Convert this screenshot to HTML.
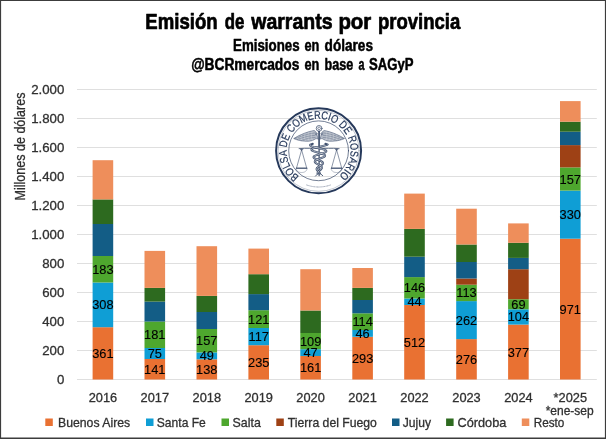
<!DOCTYPE html>
<html lang="es"><head><meta charset="utf-8"><title>Emisión de warrants por provincia</title>
<style>html,body{margin:0;padding:0;background:#fff}svg{display:block}text{font-family:"Liberation Sans",Arial,sans-serif}.ax{stroke:#303030;stroke-width:.3px}.dl{stroke:#000;stroke-width:.12px}</style>
</head><body>
<svg width="606" height="439" viewBox="0 0 606 439">
<rect x="0" y="0" width="606" height="439" fill="#fff"/>
<line x1="77" x2="596.8" y1="379.50" y2="379.50" stroke="#DFDFDF" stroke-width="1"/>
<line x1="77" x2="596.8" y1="350.50" y2="350.50" stroke="#DFDFDF" stroke-width="1"/>
<line x1="77" x2="596.8" y1="321.50" y2="321.50" stroke="#DFDFDF" stroke-width="1"/>
<line x1="77" x2="596.8" y1="292.50" y2="292.50" stroke="#DFDFDF" stroke-width="1"/>
<line x1="77" x2="596.8" y1="263.50" y2="263.50" stroke="#DFDFDF" stroke-width="1"/>
<line x1="77" x2="596.8" y1="234.50" y2="234.50" stroke="#DFDFDF" stroke-width="1"/>
<line x1="77" x2="596.8" y1="205.50" y2="205.50" stroke="#DFDFDF" stroke-width="1"/>
<line x1="77" x2="596.8" y1="176.50" y2="176.50" stroke="#DFDFDF" stroke-width="1"/>
<line x1="77" x2="596.8" y1="147.50" y2="147.50" stroke="#DFDFDF" stroke-width="1"/>
<line x1="77" x2="596.8" y1="118.50" y2="118.50" stroke="#DFDFDF" stroke-width="1"/>
<line x1="77" x2="596.8" y1="89.50" y2="89.50" stroke="#DFDFDF" stroke-width="1"/>
<g transform="translate(318.6,150.8)" fill="none" stroke="#26395B" stroke-linecap="round" stroke-linejoin="round">
<circle r="42.5" stroke-width="2.0"/>
<circle r="40.5" stroke-width="0.4" stroke-opacity="0.7"/>
<circle r="29.9" stroke-width="0.65"/>
<path id="lp" d="M-19.26,25.56 A32.0,32.0 0 1 1 20.57,24.51" stroke="none"/>
<text font-size="11.2" fill="#26395B" stroke="#26395B" stroke-width="0.2" textLength="158.1" lengthAdjust="spacingAndGlyphs"><textPath href="#lp" textLength="158.1" lengthAdjust="spacingAndGlyphs">BOLSA DE COMERCIO DE ROSARIO</textPath></text>
<path d="M-12.38,34.02 A36.2,36.2 0 0 0 12.38,34.02" stroke-width="0.9" stroke-opacity="0.55" stroke-dasharray="0.7 0.35 1.1 0.3 0.5 0.4" stroke-linecap="butt"/>
<g transform="translate(0.5,-0.3)" opacity="0.88">
<circle cx="0" cy="-22.1" r="2.9" stroke-width="0.75"/>
<circle cx="0" cy="-22.1" r="1.3" stroke-width="0.6" stroke-dasharray="0.5 0.5"/>
<path d="M0,-19.2 V25" stroke-width="1.25"/>
<path d="M-1.0,-11.5 C-1.8,-14.5 -2.6,-19.6 -5.2,-20.0 C-11,-19.0 -18.5,-16.2 -25.4,-12.0 C-21.5,-10.2 -18,-9.6 -15,-9.4 C-11,-8.9 -7,-9.4 -4.6,-11.0 C-3.4,-12.0 -2.0,-12.2 -1.0,-11.5 Z" fill="#26395B" fill-opacity="0.38" stroke-width="0.55"/>
<path d="M-4.5,-17.6 C-11,-16.8 -18,-14.4 -24.2,-11.9" stroke-width="0.45" stroke-opacity="0.8"/>
<path d="M-4.2,-15.2 C-10,-14.8 -16,-13.2 -21.5,-11.0" stroke-width="0.45" stroke-opacity="0.8"/>
<path d="M-4.0,-13.0 C-9,-12.8 -13,-11.8 -17.5,-10.0" stroke-width="0.45" stroke-opacity="0.8"/>
<path d="M-7,-19.2 C-8.2,-14.399999999999999 -7.6,-10.6 -6.2,-9.6" stroke="#fff" stroke-opacity="0.5" stroke-width="0.4"/>
<path d="M-10.5,-18.4 C-11.7,-13.85 -11.1,-10.3 -9.7,-9.3" stroke="#fff" stroke-opacity="0.5" stroke-width="0.4"/>
<path d="M-14,-17.2 C-15.2,-13.35 -14.6,-10.5 -13.2,-9.5" stroke="#fff" stroke-opacity="0.5" stroke-width="0.4"/>
<path d="M-17.5,-15.6 C-18.7,-12.75 -18.1,-10.9 -16.7,-9.9" stroke="#fff" stroke-opacity="0.5" stroke-width="0.4"/>
<path d="M-21,-13.9 C-22.2,-12.25 -21.6,-11.6 -20.2,-10.6" stroke="#fff" stroke-opacity="0.5" stroke-width="0.4"/>
<path d="M-1.0,-16.5 C-2.2,-18.2 -4.0,-17.6 -3.6,-16.0 C-3.3,-15.0 -2.2,-15.2 -2.3,-16.0" stroke-width="0.5"/>
<path d="M1.0,-11.5 C1.8,-14.5 2.6,-19.6 5.2,-20.0 C11,-19.0 18.5,-16.2 25.4,-12.0 C21.5,-10.2 18,-9.6 15,-9.4 C11,-8.9 7,-9.4 4.6,-11.0 C3.4,-12.0 2.0,-12.2 1.0,-11.5 Z" fill="#26395B" fill-opacity="0.38" stroke-width="0.55"/>
<path d="M4.5,-17.6 C11,-16.8 18,-14.4 24.2,-11.9" stroke-width="0.45" stroke-opacity="0.8"/>
<path d="M4.2,-15.2 C10,-14.8 16,-13.2 21.5,-11.0" stroke-width="0.45" stroke-opacity="0.8"/>
<path d="M4.0,-13.0 C9,-12.8 13,-11.8 17.5,-10.0" stroke-width="0.45" stroke-opacity="0.8"/>
<path d="M7,-19.2 C8.2,-14.399999999999999 7.6,-10.6 6.2,-9.6" stroke="#fff" stroke-opacity="0.5" stroke-width="0.4"/>
<path d="M10.5,-18.4 C11.7,-13.85 11.1,-10.3 9.7,-9.3" stroke="#fff" stroke-opacity="0.5" stroke-width="0.4"/>
<path d="M14,-17.2 C15.2,-13.35 14.6,-10.5 13.2,-9.5" stroke="#fff" stroke-opacity="0.5" stroke-width="0.4"/>
<path d="M17.5,-15.6 C18.7,-12.75 18.1,-10.9 16.7,-9.9" stroke="#fff" stroke-opacity="0.5" stroke-width="0.4"/>
<path d="M21,-13.9 C22.2,-12.25 21.6,-11.6 20.2,-10.6" stroke="#fff" stroke-opacity="0.5" stroke-width="0.4"/>
<path d="M1.0,-16.5 C2.2,-18.2 4.0,-17.6 3.6,-16.0 C3.3,-15.0 2.2,-15.2 2.3,-16.0" stroke-width="0.5"/>
<path d="M-20,-1.9 C-12,-2.6 -6,-1.8 0,-2.2 C6,-1.8 12,-2.6 20,-1.9" stroke-width="0.8"/>
<path d="M-17.5,-0.6 L-22.5,17.2 M-17.5,-0.6 L-12.5,17.2" stroke-width="0.6"/>
<path d="M-18.8,-1.2 L-17.5,0.3 L-16.2,-1.2 Z" fill="#26395B" stroke-width="0.4"/>
<path d="M-23.1,17.7 H-11.9" stroke-width="1.3" stroke-linecap="butt"/>
<path d="M-23.1,18.0 C-22.5,21.4 -19.7,22.0 -17.5,22.0 C-15.3,22.0 -12.5,21.4 -11.9,18.0" stroke-width="0.45" stroke-opacity="0.8"/>
<path d="M17.5,-0.6 L12.5,17.2 M17.5,-0.6 L22.5,17.2" stroke-width="0.6"/>
<path d="M16.2,-1.2 L17.5,0.3 L18.8,-1.2 Z" fill="#26395B" stroke-width="0.4"/>
<path d="M11.9,17.7 H23.1" stroke-width="1.3" stroke-linecap="butt"/>
<path d="M11.9,18.0 C12.5,21.4 15.3,22.0 17.5,22.0 C19.7,22.0 22.5,21.4 23.1,18.0" stroke-width="0.45" stroke-opacity="0.8"/>
<path d="M8.55,-6.00 L8.00,-5.76 L7.33,-5.52 L6.55,-5.28 L5.68,-5.03 L4.74,-4.79 L3.73,-4.55 L2.69,-4.31 L1.62,-4.07 L0.54,-3.83 L-0.53,-3.58 L-1.57,-3.34 L-2.57,-3.10 L-3.52,-2.86 L-4.39,-2.62 L-5.17,-2.38 L-5.87,-2.13 L-6.45,-1.89 L-6.93,-1.65 L-7.28,-1.41 L-7.52,-1.17 L-7.63,-0.93 L-7.62,-0.68 L-7.49,-0.44 L-7.24,-0.20 L-6.89,0.04 L-6.43,0.28 L-5.88,0.53 L-5.25,0.77 L-4.54,1.01 L-3.78,1.25 L-2.98,1.49 L-2.14,1.73 L-1.28,1.98 L-0.43,2.22 L0.42,2.46 L1.24,2.70 L2.03,2.94 L2.77,3.18 L3.45,3.43 L4.06,3.67 L4.59,3.91 L5.04,4.15 L5.40,4.39 L5.67,4.63 L5.84,4.88 L5.91,5.12 L5.89,5.36 L5.78,5.60 L5.58,5.84 L5.29,6.08 L4.93,6.32 L4.49,6.57 L4.00,6.81 L3.46,7.05 L2.87,7.29 L2.25,7.53 L1.61,7.77 L0.97,8.02 L0.32,8.26 L-0.32,8.50 L-0.93,8.74 L-1.51,8.98 L-2.06,9.23 L-2.55,9.47 L-3.00,9.71 L-3.38,9.95 L-3.70,10.19 L-3.95,10.43 L-4.13,10.67 L-4.24,10.92 L-4.28,11.16 L-4.25,11.40 L-4.15,11.64 L-3.99,11.88 L-3.77,12.12 L-3.50,12.37 L-3.18,12.61 L-2.82,12.85 L-2.43,13.09 L-2.01,13.33 L-1.57,13.58 L-1.12,13.82 L-0.67,14.06 L-0.22,14.30 L0.22,14.54 L0.63,14.78 L1.03,15.02 L1.39,15.27 L1.72,15.51 L2.00,15.75 L2.25,15.99 L2.45,16.23 L2.60,16.48 L2.70,16.72 L2.76,16.96 L2.77,17.20 L2.74,17.44 L2.66,17.68 L2.54,17.92 L2.39,18.17 L2.20,18.41 L1.99,18.65 L1.75,18.89 L1.50,19.13 L1.23,19.38 L0.95,19.62 L0.68,19.86 L0.40,20.10 L0.13,20.34 L-0.13,20.58 L-0.37,20.83 L-0.60,21.07 L-0.80,21.31 L-0.99,21.55 L-1.15,21.79 L-1.28,22.03 L-1.38,22.27 L-1.46,22.52 L-1.52,22.76 L-1.55,23.00" stroke-width="2.1"/>
<path d="M-8.55,-6.00 L-8.84,-5.76 L-8.98,-5.52 L-8.98,-5.28 L-8.84,-5.03 L-8.56,-4.79 L-8.15,-4.55 L-7.62,-4.31 L-6.97,-4.07 L-6.23,-3.83 L-5.40,-3.58 L-4.50,-3.34 L-3.55,-3.10 L-2.55,-2.86 L-1.53,-2.62 L-0.51,-2.38 L0.51,-2.13 L1.49,-1.89 L2.44,-1.65 L3.34,-1.41 L4.16,-1.17 L4.90,-0.93 L5.56,-0.68 L6.11,-0.44 L6.55,-0.20 L6.89,0.04 L7.11,0.28 L7.21,0.53 L7.20,0.77 L7.07,1.01 L6.84,1.25 L6.50,1.49 L6.06,1.73 L5.54,1.98 L4.94,2.22 L4.28,2.46 L3.56,2.70 L2.80,2.94 L2.01,3.18 L1.21,3.43 L0.40,3.67 L-0.40,3.91 L-1.17,4.15 L-1.90,4.39 L-2.59,4.63 L-3.23,4.88 L-3.80,5.12 L-4.29,5.36 L-4.71,5.60 L-5.04,5.84 L-5.29,6.08 L-5.45,6.32 L-5.51,6.57 L-5.49,6.81 L-5.38,7.05 L-5.19,7.29 L-4.92,7.53 L-4.58,7.77 L-4.17,8.02 L-3.71,8.26 L-3.20,8.50 L-2.66,8.74 L-2.08,8.98 L-1.49,9.23 L-0.89,9.47 L-0.30,9.71 L0.29,9.95 L0.86,10.19 L1.39,10.43 L1.89,10.67 L2.35,10.92 L2.75,11.16 L3.10,11.40 L3.39,11.64 L3.61,11.88 L3.77,12.12 L3.87,12.37 L3.90,12.61 L3.87,12.85 L3.78,13.09 L3.63,13.33 L3.43,13.58 L3.18,13.82 L2.88,14.06 L2.55,14.30 L2.19,14.54 L1.81,14.78 L1.41,15.02 L1.01,15.27 L0.60,15.51 L0.20,15.75 L-0.19,15.99 L-0.57,16.23 L-0.92,16.48 L-1.24,16.72 L-1.53,16.96 L-1.78,17.20 L-2.00,17.44 L-2.17,17.68 L-2.30,17.92 L-2.39,18.17 L-2.43,18.41 L-2.44,18.65 L-2.40,18.89 L-2.33,19.13 L-2.22,19.38 L-2.08,19.62 L-1.92,19.86 L-1.73,20.10 L-1.52,20.34 L-1.30,20.58 L-1.06,20.83 L-0.82,21.07 L-0.58,21.31 L-0.35,21.55 L-0.11,21.79 L0.11,22.03 L0.32,22.27 L0.52,22.52 L0.69,22.76 L0.86,23.00" stroke-width="2.1"/>
<path d="M8.55,-6.00 L8.00,-5.76 L7.33,-5.52 L6.55,-5.28 L5.68,-5.03 L4.74,-4.79 L3.73,-4.55 L2.69,-4.31 L1.62,-4.07 L0.54,-3.83 L-0.53,-3.58 L-1.57,-3.34 L-2.57,-3.10 L-3.52,-2.86 L-4.39,-2.62 L-5.17,-2.38 L-5.87,-2.13 L-6.45,-1.89 L-6.93,-1.65 L-7.28,-1.41 L-7.52,-1.17 L-7.63,-0.93 L-7.62,-0.68 L-7.49,-0.44 L-7.24,-0.20 L-6.89,0.04 L-6.43,0.28 L-5.88,0.53 L-5.25,0.77 L-4.54,1.01 L-3.78,1.25 L-2.98,1.49 L-2.14,1.73 L-1.28,1.98 L-0.43,2.22 L0.42,2.46 L1.24,2.70 L2.03,2.94 L2.77,3.18 L3.45,3.43 L4.06,3.67 L4.59,3.91 L5.04,4.15 L5.40,4.39 L5.67,4.63 L5.84,4.88 L5.91,5.12 L5.89,5.36 L5.78,5.60 L5.58,5.84 L5.29,6.08 L4.93,6.32 L4.49,6.57 L4.00,6.81 L3.46,7.05 L2.87,7.29 L2.25,7.53 L1.61,7.77 L0.97,8.02 L0.32,8.26 L-0.32,8.50 L-0.93,8.74 L-1.51,8.98 L-2.06,9.23 L-2.55,9.47 L-3.00,9.71 L-3.38,9.95 L-3.70,10.19 L-3.95,10.43 L-4.13,10.67 L-4.24,10.92 L-4.28,11.16 L-4.25,11.40 L-4.15,11.64 L-3.99,11.88 L-3.77,12.12 L-3.50,12.37 L-3.18,12.61 L-2.82,12.85 L-2.43,13.09 L-2.01,13.33 L-1.57,13.58 L-1.12,13.82 L-0.67,14.06 L-0.22,14.30 L0.22,14.54 L0.63,14.78 L1.03,15.02 L1.39,15.27 L1.72,15.51 L2.00,15.75 L2.25,15.99 L2.45,16.23 L2.60,16.48 L2.70,16.72 L2.76,16.96 L2.77,17.20 L2.74,17.44 L2.66,17.68 L2.54,17.92 L2.39,18.17 L2.20,18.41 L1.99,18.65 L1.75,18.89 L1.50,19.13 L1.23,19.38 L0.95,19.62 L0.68,19.86 L0.40,20.10 L0.13,20.34 L-0.13,20.58 L-0.37,20.83 L-0.60,21.07 L-0.80,21.31 L-0.99,21.55 L-1.15,21.79 L-1.28,22.03 L-1.38,22.27 L-1.46,22.52 L-1.52,22.76 L-1.55,23.00" stroke="#fff" stroke-opacity="0.72" stroke-width="0.75"/>
<path d="M-8.55,-6.00 L-8.84,-5.76 L-8.98,-5.52 L-8.98,-5.28 L-8.84,-5.03 L-8.56,-4.79 L-8.15,-4.55 L-7.62,-4.31 L-6.97,-4.07 L-6.23,-3.83 L-5.40,-3.58 L-4.50,-3.34 L-3.55,-3.10 L-2.55,-2.86 L-1.53,-2.62 L-0.51,-2.38 L0.51,-2.13 L1.49,-1.89 L2.44,-1.65 L3.34,-1.41 L4.16,-1.17 L4.90,-0.93 L5.56,-0.68 L6.11,-0.44 L6.55,-0.20 L6.89,0.04 L7.11,0.28 L7.21,0.53 L7.20,0.77 L7.07,1.01 L6.84,1.25 L6.50,1.49 L6.06,1.73 L5.54,1.98 L4.94,2.22 L4.28,2.46 L3.56,2.70 L2.80,2.94 L2.01,3.18 L1.21,3.43 L0.40,3.67 L-0.40,3.91 L-1.17,4.15 L-1.90,4.39 L-2.59,4.63 L-3.23,4.88 L-3.80,5.12 L-4.29,5.36 L-4.71,5.60 L-5.04,5.84 L-5.29,6.08 L-5.45,6.32 L-5.51,6.57 L-5.49,6.81 L-5.38,7.05 L-5.19,7.29 L-4.92,7.53 L-4.58,7.77 L-4.17,8.02 L-3.71,8.26 L-3.20,8.50 L-2.66,8.74 L-2.08,8.98 L-1.49,9.23 L-0.89,9.47 L-0.30,9.71 L0.29,9.95 L0.86,10.19 L1.39,10.43 L1.89,10.67 L2.35,10.92 L2.75,11.16 L3.10,11.40 L3.39,11.64 L3.61,11.88 L3.77,12.12 L3.87,12.37 L3.90,12.61 L3.87,12.85 L3.78,13.09 L3.63,13.33 L3.43,13.58 L3.18,13.82 L2.88,14.06 L2.55,14.30 L2.19,14.54 L1.81,14.78 L1.41,15.02 L1.01,15.27 L0.60,15.51 L0.20,15.75 L-0.19,15.99 L-0.57,16.23 L-0.92,16.48 L-1.24,16.72 L-1.53,16.96 L-1.78,17.20 L-2.00,17.44 L-2.17,17.68 L-2.30,17.92 L-2.39,18.17 L-2.43,18.41 L-2.44,18.65 L-2.40,18.89 L-2.33,19.13 L-2.22,19.38 L-2.08,19.62 L-1.92,19.86 L-1.73,20.10 L-1.52,20.34 L-1.30,20.58 L-1.06,20.83 L-0.82,21.07 L-0.58,21.31 L-0.35,21.55 L-0.11,21.79 L0.11,22.03 L0.32,22.27 L0.52,22.52 L0.69,22.76 L0.86,23.00" stroke="#fff" stroke-opacity="0.72" stroke-width="0.75"/>
<ellipse cx="-6.9" cy="-6.4" rx="1.7" ry="1.1" transform="rotate(-25 -6.9 -6.4)" fill="#26395B" stroke="none"/>
<ellipse cx="6.9" cy="-6.4" rx="1.7" ry="1.1" transform="rotate(25 6.9 -6.4)" fill="#26395B" stroke="none"/>
<path d="M-0.6,22.5 L-3.6,25.6 M0.6,22.5 L3.6,25.2" stroke-width="0.9"/>
<path d="M0,-19.2 V-4" stroke-width="1.25"/>
</g>
</g>
<rect x="92.60" y="327.20" width="20.6" height="52.30" fill="#E97132"/>
<rect x="92.60" y="282.50" width="20.6" height="44.70" fill="#0F9ED5"/>
<rect x="92.60" y="256.00" width="20.6" height="26.50" fill="#4EA72E"/>
<rect x="92.60" y="224.00" width="20.6" height="32.00" fill="#135D86"/>
<rect x="92.60" y="199.40" width="20.6" height="24.60" fill="#2D6A1F"/>
<rect x="92.60" y="160.20" width="20.6" height="39.20" fill="#EE8E5B"/>
<text x="102.90" y="357.85" font-size="12.8" text-anchor="middle" fill="#000" class="dl">361</text>
<text x="102.90" y="309.35" font-size="12.8" text-anchor="middle" fill="#000" class="dl">308</text>
<text x="102.90" y="273.75" font-size="12.8" text-anchor="middle" fill="#000" class="dl">183</text>
<text x="102.90" y="401.6" font-size="12.8" text-anchor="middle" fill="#303030" class="ax">2016</text>
<rect x="144.50" y="359.00" width="20.6" height="20.50" fill="#E97132"/>
<rect x="144.50" y="348.00" width="20.6" height="11.00" fill="#0F9ED5"/>
<rect x="144.50" y="321.50" width="20.6" height="26.50" fill="#4EA72E"/>
<rect x="144.50" y="301.60" width="20.6" height="19.90" fill="#135D86"/>
<rect x="144.50" y="287.90" width="20.6" height="13.70" fill="#2D6A1F"/>
<rect x="144.50" y="250.90" width="20.6" height="37.00" fill="#EE8E5B"/>
<text x="154.80" y="373.75" font-size="12.8" text-anchor="middle" fill="#000" class="dl">141</text>
<text x="154.80" y="358.00" font-size="12.8" text-anchor="middle" fill="#000" class="dl">75</text>
<text x="154.80" y="339.25" font-size="12.8" text-anchor="middle" fill="#000" class="dl">181</text>
<text x="154.80" y="401.6" font-size="12.8" text-anchor="middle" fill="#303030" class="ax">2017</text>
<rect x="196.50" y="359.30" width="20.6" height="20.20" fill="#E97132"/>
<rect x="196.50" y="352.40" width="20.6" height="6.90" fill="#0F9ED5"/>
<rect x="196.50" y="329.00" width="20.6" height="23.40" fill="#4EA72E"/>
<rect x="196.50" y="312.00" width="20.6" height="17.00" fill="#135D86"/>
<rect x="196.50" y="295.90" width="20.6" height="16.10" fill="#2D6A1F"/>
<rect x="196.50" y="246.20" width="20.6" height="49.70" fill="#EE8E5B"/>
<text x="206.80" y="373.90" font-size="12.8" text-anchor="middle" fill="#000" class="dl">138</text>
<text x="206.80" y="360.35" font-size="12.8" text-anchor="middle" fill="#000" class="dl">49</text>
<text x="206.80" y="345.20" font-size="12.8" text-anchor="middle" fill="#000" class="dl">157</text>
<text x="206.80" y="401.6" font-size="12.8" text-anchor="middle" fill="#303030" class="ax">2018</text>
<rect x="248.40" y="345.20" width="20.6" height="34.30" fill="#E97132"/>
<rect x="248.40" y="328.00" width="20.6" height="17.20" fill="#0F9ED5"/>
<rect x="248.40" y="310.20" width="20.6" height="17.80" fill="#4EA72E"/>
<rect x="248.40" y="294.10" width="20.6" height="16.10" fill="#135D86"/>
<rect x="248.40" y="274.20" width="20.6" height="19.90" fill="#2D6A1F"/>
<rect x="248.40" y="248.60" width="20.6" height="25.60" fill="#EE8E5B"/>
<text x="258.70" y="366.85" font-size="12.8" text-anchor="middle" fill="#000" class="dl">235</text>
<text x="258.70" y="341.10" font-size="12.8" text-anchor="middle" fill="#000" class="dl">117</text>
<text x="258.70" y="323.60" font-size="12.8" text-anchor="middle" fill="#000" class="dl">121</text>
<text x="258.70" y="401.6" font-size="12.8" text-anchor="middle" fill="#303030" class="ax">2019</text>
<rect x="300.30" y="356.00" width="20.6" height="23.50" fill="#E97132"/>
<rect x="300.30" y="349.20" width="20.6" height="6.80" fill="#0F9ED5"/>
<rect x="300.30" y="333.00" width="20.6" height="16.20" fill="#4EA72E"/>
<rect x="300.30" y="310.50" width="20.6" height="22.50" fill="#2D6A1F"/>
<rect x="300.30" y="269.20" width="20.6" height="41.30" fill="#EE8E5B"/>
<text x="310.60" y="372.25" font-size="12.8" text-anchor="middle" fill="#000" class="dl">161</text>
<text x="310.60" y="357.10" font-size="12.8" text-anchor="middle" fill="#000" class="dl">47</text>
<text x="310.60" y="345.60" font-size="12.8" text-anchor="middle" fill="#000" class="dl">109</text>
<text x="310.60" y="401.6" font-size="12.8" text-anchor="middle" fill="#303030" class="ax">2020</text>
<rect x="352.30" y="336.80" width="20.6" height="42.70" fill="#E97132"/>
<rect x="352.30" y="330.00" width="20.6" height="6.80" fill="#0F9ED5"/>
<rect x="352.30" y="313.30" width="20.6" height="16.70" fill="#4EA72E"/>
<rect x="352.30" y="300.00" width="20.6" height="13.30" fill="#135D86"/>
<rect x="352.30" y="287.90" width="20.6" height="12.10" fill="#2D6A1F"/>
<rect x="352.30" y="268.00" width="20.6" height="19.90" fill="#EE8E5B"/>
<text x="362.60" y="362.65" font-size="12.8" text-anchor="middle" fill="#000" class="dl">293</text>
<text x="362.60" y="337.90" font-size="12.8" text-anchor="middle" fill="#000" class="dl">46</text>
<text x="362.60" y="326.15" font-size="12.8" text-anchor="middle" fill="#000" class="dl">114</text>
<text x="362.60" y="401.6" font-size="12.8" text-anchor="middle" fill="#303030" class="ax">2021</text>
<rect x="404.20" y="305.00" width="20.6" height="74.50" fill="#E97132"/>
<rect x="404.20" y="298.50" width="20.6" height="6.50" fill="#0F9ED5"/>
<rect x="404.20" y="277.10" width="20.6" height="21.40" fill="#4EA72E"/>
<rect x="404.20" y="256.70" width="20.6" height="20.40" fill="#135D86"/>
<rect x="404.20" y="228.90" width="20.6" height="27.80" fill="#2D6A1F"/>
<rect x="404.20" y="193.60" width="20.6" height="35.30" fill="#EE8E5B"/>
<text x="414.50" y="346.75" font-size="12.8" text-anchor="middle" fill="#000" class="dl">512</text>
<text x="414.50" y="306.25" font-size="12.8" text-anchor="middle" fill="#000" class="dl">44</text>
<text x="414.50" y="292.30" font-size="12.8" text-anchor="middle" fill="#000" class="dl">146</text>
<text x="414.50" y="401.6" font-size="12.8" text-anchor="middle" fill="#303030" class="ax">2022</text>
<rect x="456.20" y="339.10" width="20.6" height="40.40" fill="#E97132"/>
<rect x="456.20" y="301.10" width="20.6" height="38.00" fill="#0F9ED5"/>
<rect x="456.20" y="284.70" width="20.6" height="16.40" fill="#4EA72E"/>
<rect x="456.20" y="278.50" width="20.6" height="6.20" fill="#9E4115"/>
<rect x="456.20" y="262.00" width="20.6" height="16.50" fill="#135D86"/>
<rect x="456.20" y="244.50" width="20.6" height="17.50" fill="#2D6A1F"/>
<rect x="456.20" y="208.70" width="20.6" height="35.80" fill="#EE8E5B"/>
<text x="466.50" y="363.80" font-size="12.8" text-anchor="middle" fill="#000" class="dl">276</text>
<text x="466.50" y="324.60" font-size="12.8" text-anchor="middle" fill="#000" class="dl">262</text>
<text x="466.50" y="297.40" font-size="12.8" text-anchor="middle" fill="#000" class="dl">113</text>
<text x="466.50" y="401.6" font-size="12.8" text-anchor="middle" fill="#303030" class="ax">2023</text>
<rect x="508.10" y="324.60" width="20.6" height="54.90" fill="#E97132"/>
<rect x="508.10" y="309.30" width="20.6" height="15.30" fill="#0F9ED5"/>
<rect x="508.10" y="299.20" width="20.6" height="10.10" fill="#4EA72E"/>
<rect x="508.10" y="269.20" width="20.6" height="30.00" fill="#9E4115"/>
<rect x="508.10" y="257.90" width="20.6" height="11.30" fill="#135D86"/>
<rect x="508.10" y="242.80" width="20.6" height="15.10" fill="#2D6A1F"/>
<rect x="508.10" y="223.40" width="20.6" height="19.40" fill="#EE8E5B"/>
<text x="518.40" y="356.55" font-size="12.8" text-anchor="middle" fill="#000" class="dl">377</text>
<text x="518.40" y="321.45" font-size="12.8" text-anchor="middle" fill="#000" class="dl">104</text>
<text x="518.40" y="308.75" font-size="12.8" text-anchor="middle" fill="#000" class="dl">69</text>
<text x="518.40" y="401.6" font-size="12.8" text-anchor="middle" fill="#303030" class="ax">2024</text>
<rect x="560.00" y="238.70" width="20.6" height="140.80" fill="#E97132"/>
<rect x="560.00" y="190.60" width="20.6" height="48.10" fill="#0F9ED5"/>
<rect x="560.00" y="167.40" width="20.6" height="23.20" fill="#4EA72E"/>
<rect x="560.00" y="145.10" width="20.6" height="22.30" fill="#9E4115"/>
<rect x="560.00" y="131.70" width="20.6" height="13.40" fill="#135D86"/>
<rect x="560.00" y="121.70" width="20.6" height="10.00" fill="#2D6A1F"/>
<rect x="560.00" y="101.10" width="20.6" height="20.60" fill="#EE8E5B"/>
<text x="570.30" y="313.60" font-size="12.8" text-anchor="middle" fill="#000" class="dl">971</text>
<text x="570.30" y="219.15" font-size="12.8" text-anchor="middle" fill="#000" class="dl">330</text>
<text x="570.30" y="183.50" font-size="12.8" text-anchor="middle" fill="#000" class="dl">157</text>
<text x="570.30" y="401.6" font-size="12.8" text-anchor="middle" fill="#303030" class="ax">*2025</text>
<text x="545.7" y="414.5" font-size="12.8" fill="#303030" class="ax" textLength="48" lengthAdjust="spacingAndGlyphs">*ene-sep</text>
<text x="56.93" y="383.50" font-size="12.8" fill="#303030" class="ax" textLength="7.37" lengthAdjust="spacingAndGlyphs">0</text>
<text x="42.20" y="354.50" font-size="12.8" fill="#303030" class="ax" textLength="22.10" lengthAdjust="spacingAndGlyphs">200</text>
<text x="42.20" y="325.50" font-size="12.8" fill="#303030" class="ax" textLength="22.10" lengthAdjust="spacingAndGlyphs">400</text>
<text x="42.20" y="296.50" font-size="12.8" fill="#303030" class="ax" textLength="22.10" lengthAdjust="spacingAndGlyphs">600</text>
<text x="42.20" y="267.50" font-size="12.8" fill="#303030" class="ax" textLength="22.10" lengthAdjust="spacingAndGlyphs">800</text>
<text x="31.15" y="238.50" font-size="12.8" fill="#303030" class="ax" textLength="33.15" lengthAdjust="spacingAndGlyphs">1.000</text>
<text x="31.15" y="209.50" font-size="12.8" fill="#303030" class="ax" textLength="33.15" lengthAdjust="spacingAndGlyphs">1.200</text>
<text x="31.15" y="180.50" font-size="12.8" fill="#303030" class="ax" textLength="33.15" lengthAdjust="spacingAndGlyphs">1.400</text>
<text x="31.15" y="151.50" font-size="12.8" fill="#303030" class="ax" textLength="33.15" lengthAdjust="spacingAndGlyphs">1.600</text>
<text x="31.15" y="122.50" font-size="12.8" fill="#303030" class="ax" textLength="33.15" lengthAdjust="spacingAndGlyphs">1.800</text>
<text x="31.15" y="93.50" font-size="12.8" fill="#303030" class="ax" textLength="33.15" lengthAdjust="spacingAndGlyphs">2.000</text>
<text transform="translate(25.1,200.5) rotate(-90)" font-size="14.6" fill="#303030" class="ax" textLength="108" lengthAdjust="spacingAndGlyphs">Millones de dólares</text>
<text x="145.3" y="29.0" font-size="22" font-weight="bold" fill="#000" stroke="#000" stroke-width="0.7" stroke-linejoin="round" textLength="72.3" lengthAdjust="spacingAndGlyphs">Emisión</text>
<text x="224.7" y="29.0" font-size="22" font-weight="bold" fill="#000" stroke="#000" stroke-width="0.7" stroke-linejoin="round" textLength="19.6" lengthAdjust="spacingAndGlyphs">de</text>
<text x="251.3" y="29.0" font-size="22" font-weight="bold" fill="#000" stroke="#000" stroke-width="0.7" stroke-linejoin="round" textLength="81.2" lengthAdjust="spacingAndGlyphs">warrants</text>
<text x="338.4" y="29.0" font-size="22" font-weight="bold" fill="#000" stroke="#000" stroke-width="0.7" stroke-linejoin="round" textLength="32.9" lengthAdjust="spacingAndGlyphs">por</text>
<text x="378" y="29.0" font-size="22" font-weight="bold" fill="#000" stroke="#000" stroke-width="0.7" stroke-linejoin="round" textLength="82.3" lengthAdjust="spacingAndGlyphs">provincia</text>
<text x="233" y="50.6" font-size="15.8" font-weight="bold" fill="#000" stroke="#000" stroke-width="0.5" stroke-linejoin="round" textLength="66.6" lengthAdjust="spacingAndGlyphs">Emisiones</text>
<text x="304.4" y="50.6" font-size="15.8" font-weight="bold" fill="#000" stroke="#000" stroke-width="0.5" stroke-linejoin="round" textLength="14.9" lengthAdjust="spacingAndGlyphs">en</text>
<text x="324.6" y="50.6" font-size="15.8" font-weight="bold" fill="#000" stroke="#000" stroke-width="0.5" stroke-linejoin="round" textLength="48.4" lengthAdjust="spacingAndGlyphs">dólares</text>
<text x="191.2" y="70.2" font-size="15.8" font-weight="bold" fill="#000" stroke="#000" stroke-width="0.5" stroke-linejoin="round" textLength="108.1" lengthAdjust="spacingAndGlyphs">@BCRmercados</text>
<text x="304.4" y="70.2" font-size="15.8" font-weight="bold" fill="#000" stroke="#000" stroke-width="0.5" stroke-linejoin="round" textLength="14.9" lengthAdjust="spacingAndGlyphs">en</text>
<text x="324.6" y="70.2" font-size="15.8" font-weight="bold" fill="#000" stroke="#000" stroke-width="0.5" stroke-linejoin="round" textLength="28.8" lengthAdjust="spacingAndGlyphs">base</text>
<text x="358.4" y="70.2" font-size="15.8" font-weight="bold" fill="#000" stroke="#000" stroke-width="0.5" stroke-linejoin="round" textLength="6.0" lengthAdjust="spacingAndGlyphs">a</text>
<text x="369.1" y="70.2" font-size="15.8" font-weight="bold" fill="#000" stroke="#000" stroke-width="0.5" stroke-linejoin="round" textLength="44.5" lengthAdjust="spacingAndGlyphs">SAGyP</text>
<rect x="45.3" y="418.5" width="7.5" height="7.5" fill="#E97132"/>
<text x="58" y="426.5" font-size="12.8" fill="#303030" class="ax" textLength="72.2" lengthAdjust="spacingAndGlyphs">Buenos Aires</text>
<rect x="146" y="418.5" width="7.5" height="7.5" fill="#0F9ED5"/>
<text x="156.8" y="426.5" font-size="12.8" fill="#303030" class="ax" textLength="49" lengthAdjust="spacingAndGlyphs">Santa Fe</text>
<rect x="221.5" y="418.5" width="7.5" height="7.5" fill="#4EA72E"/>
<text x="232.6" y="426.5" font-size="12.8" fill="#303030" class="ax" textLength="28.2" lengthAdjust="spacingAndGlyphs">Salta</text>
<rect x="276.3" y="418.5" width="7.5" height="7.5" fill="#9E4115"/>
<text x="287.8" y="426.5" font-size="12.8" fill="#303030" class="ax" textLength="89.1" lengthAdjust="spacingAndGlyphs">Tierra del Fuego</text>
<rect x="392" y="418.5" width="7.5" height="7.5" fill="#135D86"/>
<text x="402.8" y="426.5" font-size="12.8" fill="#303030" class="ax" textLength="28.2" lengthAdjust="spacingAndGlyphs">Jujuy</text>
<rect x="446.1" y="418.5" width="7.5" height="7.5" fill="#2D6A1F"/>
<text x="457.5" y="426.5" font-size="12.8" fill="#303030" class="ax" textLength="48.8" lengthAdjust="spacingAndGlyphs">Córdoba</text>
<rect x="521.8" y="418.5" width="7.5" height="7.5" fill="#EE8E5B"/>
<text x="533.7" y="426.5" font-size="12.8" fill="#303030" class="ax" textLength="30.7" lengthAdjust="spacingAndGlyphs">Resto</text>
<rect x="0" y="0" width="606" height="1" fill="#3C3C3C"/>
<rect x="0" y="0" width="1.1" height="439" fill="#3C3C3C"/>
<rect x="604.9" y="0" width="1.1" height="439" fill="#3C3C3C"/>
<rect x="0" y="437.5" width="606" height="1.5" fill="#3C3C3C"/>
</svg></body></html>
